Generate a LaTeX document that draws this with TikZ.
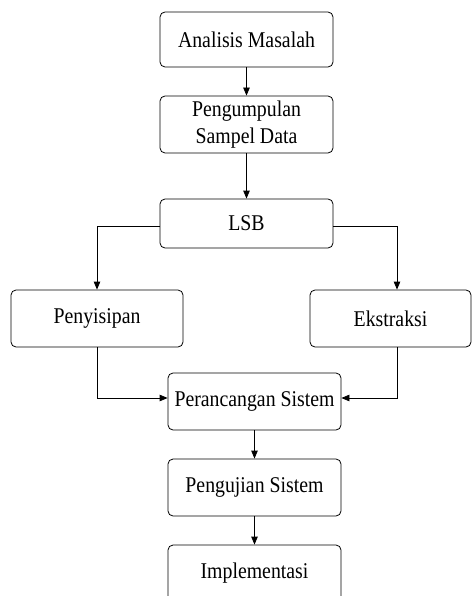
\documentclass[tikz,border=0pt]{standalone}
\usepackage{fontspec}
\setmainfont{Liberation Serif}[FakeStretch=0.88]
\usetikzlibrary{arrows.meta}
\begin{document}
\begin{tikzpicture}[x=1pt,y=-1pt,
  box/.style={draw, line width=0.8pt, rounded corners=5pt, inner sep=0pt, align=center,
    font=\fontsize{22.5}{26.5}\selectfont},
  arr/.style={line width=0.8pt, -{Triangle[length=8pt,width=6.5pt]}},
  ln/.style={line width=0.8pt}]
\useasboundingbox (0,0) rectangle (472,596);
\fill[white] (0,0) rectangle (472,596);
\node[box, minimum width=173pt, minimum height=55pt] (a) at (246.5,39.5) {Analisis Masalah};
\node[box, minimum width=173pt, minimum height=57pt] (b) at (246.5,124.5) {Pengumpulan\\Sampel Data};
\node[box, minimum width=173pt, minimum height=49pt] (c) at (246.5,223.5) {LSB};
\node[box, minimum width=172pt, minimum height=57pt] (p) at (97,318.5) {Penyisipan};
\node[box, minimum width=161pt, minimum height=57pt] (e) at (390.5,318.5) {Ekstraksi};
\node[box, minimum width=173pt, minimum height=57pt] (r) at (254.5,401.5) {Perancangan Sistem};
\node[box, minimum width=173pt, minimum height=57pt] (u) at (254.5,487.5) {Pengujian Sistem};
\node[box, minimum width=173pt, minimum height=57pt] (i) at (254.5,573.5) {Implementasi};
\draw[arr] (a.south) -- (b.north);
\draw[arr] (b.south) -- (c.north);
\draw[arr] ([yshift=-3pt]c.west) -| (p.north);
\draw[arr] ([yshift=-3pt]c.east) -| ([xshift=6.5pt]e.north);
\draw[arr] (p.south) |- ([yshift=3.5pt]r.west);
\draw[arr] ([xshift=6.5pt]e.south) |- ([yshift=3.5pt]r.east);
\draw[arr] (r.south) -- (u.north);
\draw[arr] (u.south) -- (i.north);
\end{tikzpicture}
\end{document}
